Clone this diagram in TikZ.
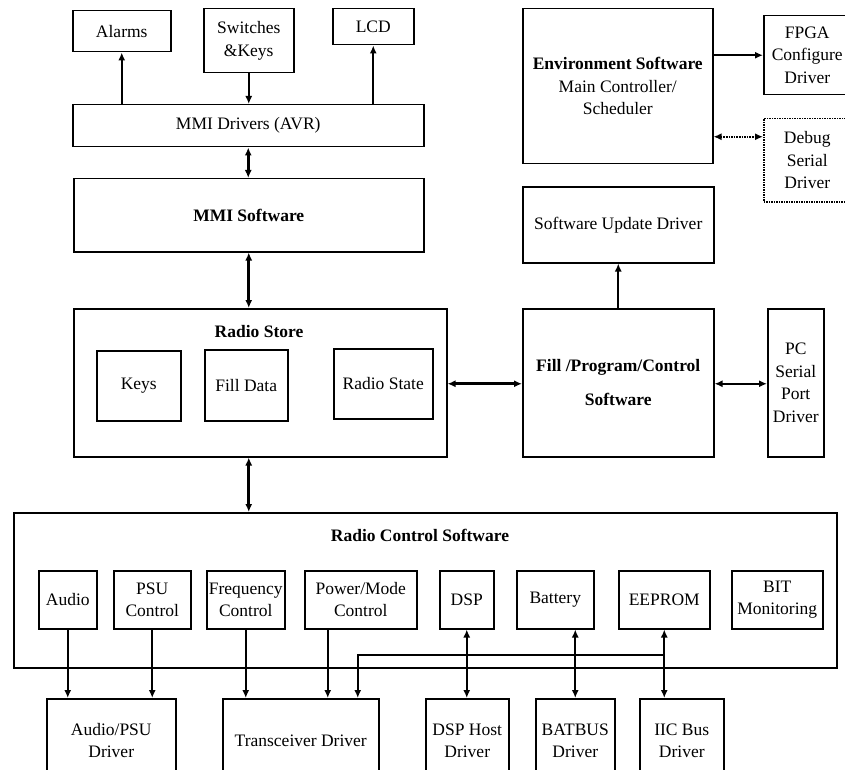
\documentclass[tikz,border=0pt]{standalone}
\usepackage{fontspec}
\setmainfont{Liberation Serif}
\usetikzlibrary{arrows.meta,calc}
\tikzset{
  box/.style={draw,line width=1.5pt,rectangle,inner sep=0pt,align=center,font=\fontsize{17.5}{22.5}\selectfont},
  dotbox/.style={box,densely dotted},
  lbl/.style={inner sep=0pt,font=\fontsize{17.5}{22.5}\selectfont\bfseries},
  tip/.style={-{Latex[length=8pt,width=7pt]}},
  dtip/.style={{Latex[length=8pt,width=7pt]}-{Latex[length=8pt,width=7pt]}},
  thinarr/.style={tip,line width=1.6pt},
  medarr/.style={tip,line width=2pt},
  meddbl/.style={dtip,line width=2pt},
  thickdbl/.style={dtip,line width=3pt},
  dotdbl/.style={dtip,line width=1.6pt,densely dotted}
}
\newcommand\mybox[7][box]{%
  \node[#1,anchor=north west,minimum width={(#5-#3)*1pt},minimum height={(#6-#4)*1pt}] (#2) at (#3,#4) {#7};}
\begin{document}
\begin{tikzpicture}[x=1pt,y=-1pt]
\useasboundingbox[fill=white] (0,0) rectangle (845,770);
% top left
\mybox{alarms}{72}{10}{170}{51}{Alarms}
\mybox{switches}{203}{8}{293}{72}{Switches\\\&Keys}
\mybox{lcd}{332}{8}{413}{44}{LCD}
\mybox{mmidrv}{72}{104}{423}{146}{MMI Drivers (AVR)}
\mybox{mmisw}{73}{178}{423}{251}{\textbf{MMI Software}}
% top right
\mybox{env}{522}{8}{712}{163}{\textbf{Environment Software}\\Main Controller/\\Scheduler}
\mybox{fpga}{763}{15}{850}{94}{FPGA\\Configure\\Driver}
\mybox[dotbox]{debug}{763}{118}{850}{201}{Debug\\Serial\\Driver}
\mybox{swupd}{522}{186}{713}{262}{Software Update Driver}
% radio store row
\mybox{store}{73}{308}{446}{456}{}
\node[lbl] (storet) at (259,332) {Radio Store};
\mybox{keys}{96}{350}{180}{420}{Keys}
\mybox{filld}{204}{349}{287}{420}{Fill Data}
\mybox{state}{333}{348}{432}{418}{Radio State}
\mybox{fpc}{522}{308}{713}{456}{\textbf{Fill /Program/Control}\\[11pt]\textbf{Software}}
\mybox{pc}{767}{308}{823}{456}{PC\\Serial\\Port\\Driver}
% radio control
\mybox{rcs}{13}{512}{836}{667}{}
\node[lbl] (rcst) at (420,535) {Radio Control Software};
\mybox{audio}{38}{570}{96}{628}{Audio}
\mybox{psu}{113}{570}{190}{628}{PSU\\Control}
\mybox{freq}{206}{570}{284}{628}{Frequency\\Control}
\mybox{pwr}{304}{570}{416}{628}{Power/Mode\\Control}
\mybox{dsp}{439}{570}{493}{628}{DSP}
\mybox{batt}{516}{570}{593}{628}{Battery}
\mybox{eeprom}{618}{570}{709}{628}{EEPROM}
\mybox{bit}{731}{570}{822}{628}{BIT\\Monitoring}
% drivers
\mybox{apd}{46}{698}{175}{782}{Audio/PSU\\Driver}
\mybox{trx}{222}{698}{378}{782}{Transceiver Driver}
\mybox{dsph}{425}{698}{508}{782}{DSP Host\\Driver}
\mybox{batbus}{535}{698}{614}{782}{BATBUS\\Driver}
\mybox{iic}{639}{698}{723}{782}{IIC Bus\\Driver}
% connectors top
\draw[medarr] (alarms.south |- mmidrv.north) -- (alarms.south);
\draw[medarr] (switches.south) -- (switches.south |- mmidrv.north);
\draw[medarr] (lcd.south |- mmidrv.north) -- (lcd.south);
\draw[thickdbl] (mmidrv.south) -- (mmidrv.south |- mmisw.north);
\draw[thickdbl] (mmisw.south) -- (mmisw.south |- store.north);
\draw[thickdbl] (mmisw.south |- store.south) -- (mmisw.south |- rcs.north);
\draw[thickdbl] (store.east |- state) -- (fpc.west |- state);
\draw[meddbl] (fpc.east |- state) -- (pc.west |- state);
\draw[thinarr] (fpc.north) -- (swupd.south);
\draw[medarr] (env.east |- fpga.west) -- (fpga.west);
\coordinate (dbgin) at ($(debug.west)+(0,-23.5)$);
\draw[dotdbl] (env.east |- dbgin) -- (dbgin);
% connectors bottom
\draw[medarr] (audio.south) -- (audio.south |- apd.north);
\draw[medarr] (psu.south) -- (psu.south |- apd.north);
\draw[medarr] (freq.south) -- (freq.south |- trx.north);
\coordinate (pwrout) at ($(pwr.south)+(-33,0)$);
\draw[medarr] (pwrout) -- (pwrout |- trx.north);
\draw[meddbl] (dsp.south) -- (dsp.south |- dsph.north);
\draw[meddbl] (batbus.north |- batt.south) -- (batbus.north);
\draw[meddbl] (eeprom.south) -- (eeprom.south |- iic.north);
\coordinate (bus) at ($(eeprom.south)+(0,25)$);
\coordinate (trxin) at ($(trx.north)+(57,0)$);
\draw[medarr] (bus) -| (trxin);
\end{tikzpicture}
\end{document}
